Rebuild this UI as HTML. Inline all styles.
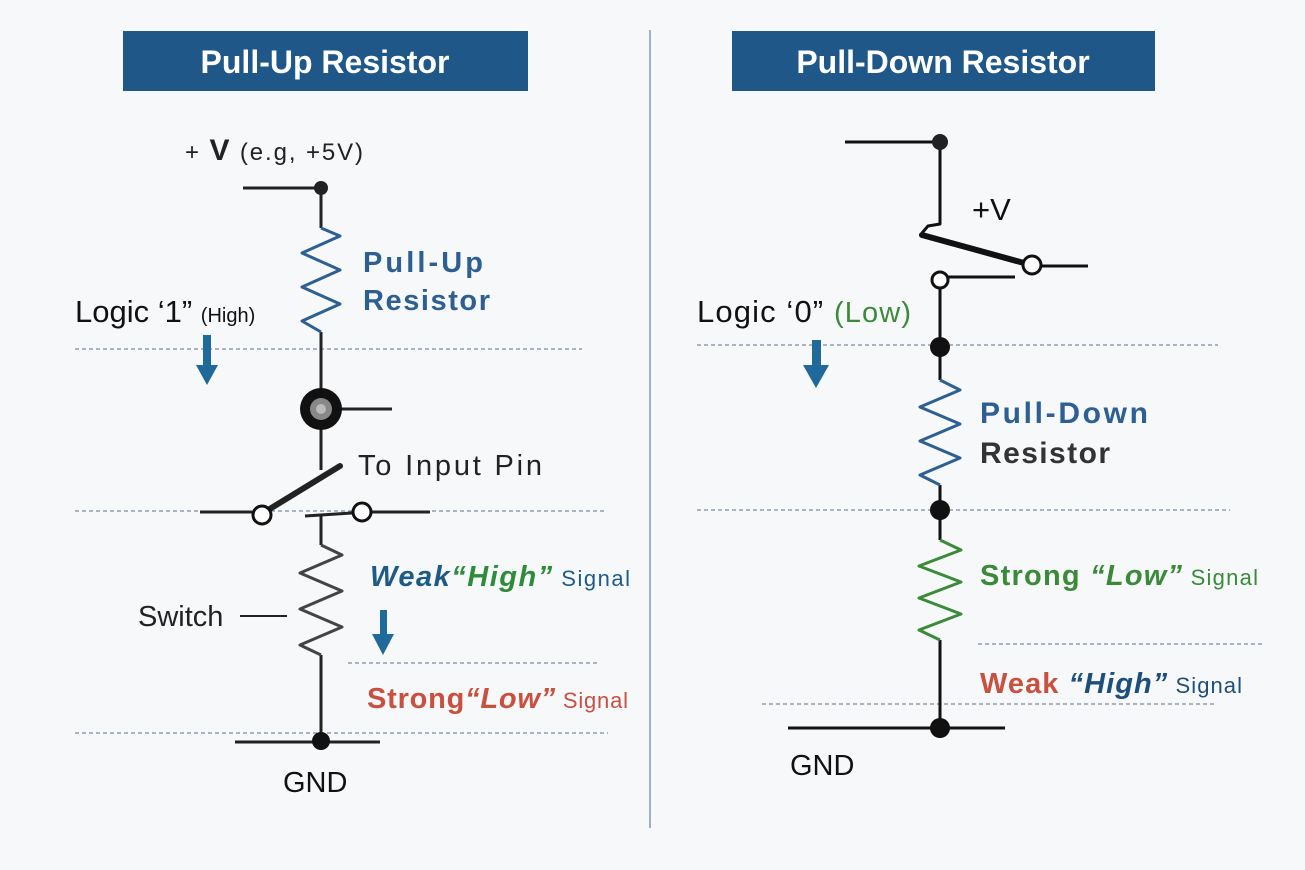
<!DOCTYPE html>
<html><head><meta charset="utf-8"><style>
html,body{margin:0;padding:0;background:#f7f8fa;}
svg{display:block;font-family:"Liberation Sans",sans-serif;}
</style></head><body>
<svg width="1305" height="870" viewBox="0 0 1305 870" xmlns="http://www.w3.org/2000/svg">
<rect width="1305" height="870" fill="#f7f8fa"/>
<rect x="123" y="31" width="405" height="60" fill="#1f5788"/>
<text x="325" y="73" fill="#fff" font-size="32" font-weight="bold" text-anchor="middle">Pull-Up Resistor</text>
<rect x="732" y="31" width="423" height="60" fill="#1f5788"/>
<text x="943" y="73" fill="#fff" font-size="32" font-weight="bold" text-anchor="middle">Pull-Down Resistor</text>
<line x1="650" y1="30" x2="650" y2="828" stroke="#9fb0c4" stroke-width="2"/>

<g stroke="#5a6f8c" stroke-width="1" stroke-dasharray="4,3">
<line x1="75" y1="349" x2="582" y2="349"/>
<line x1="75" y1="511" x2="605" y2="511"/>
<line x1="348" y1="663" x2="598" y2="663"/>
<line x1="75" y1="733" x2="608" y2="733"/>
<line x1="697" y1="345" x2="1218" y2="345"/>
<line x1="697" y1="510" x2="1230" y2="510"/>
<line x1="978" y1="644" x2="1262" y2="644"/>
<line x1="762" y1="704" x2="1215" y2="704"/>
</g>

<g stroke="#222" stroke-width="3" fill="none" stroke-linejoin="round">
<line x1="243" y1="188" x2="321" y2="188"/>
<line x1="321" y1="188" x2="321" y2="228"/>
<line x1="321" y1="332" x2="321" y2="470"/>
<line x1="341" y1="409" x2="392" y2="409"/>
<line x1="200" y1="512" x2="252" y2="512"/>
<line x1="372" y1="512" x2="430" y2="512"/>
<line x1="305" y1="516" x2="352" y2="513"/>
<line x1="321" y1="515" x2="321" y2="545"/>
<line x1="321" y1="655" x2="321" y2="742"/>
<line x1="235" y1="742" x2="380" y2="742"/>
<polyline stroke="#444" points="321,545 342,555 300,573 342,591 300,609 342,627 300,645 321,655"/>
<polyline stroke="#2d5f93" points="321,228 340,236 302,253 340,270 302,287 340,304 302,321 321,332"/>
</g>
<line x1="268" y1="510" x2="340" y2="466" stroke="#222" stroke-width="6" stroke-linecap="round"/>
<circle cx="321" cy="188" r="7" fill="#222"/>
<circle cx="321" cy="409" r="21" fill="#111"/>
<circle cx="321" cy="409" r="11" fill="#888"/>
<circle cx="321" cy="409" r="5" fill="#bbb"/>
<circle cx="262" cy="515" r="9" fill="#fff" stroke="#111" stroke-width="3"/>
<circle cx="362" cy="512" r="9" fill="#fff" stroke="#111" stroke-width="3"/>
<circle cx="321" cy="741" r="9" fill="#111"/>
<line x1="240" y1="616" x2="287" y2="616" stroke="#222" stroke-width="2"/>

<text x="185" y="160" font-size="24" fill="#222" textLength="178">+ <tspan font-size="30" font-weight="bold">V</tspan> (e.g, +5V)</text>
<text x="363" y="272" font-size="29" font-weight="bold" fill="#2d5f93" textLength="120">Pull-Up</text>
<text x="363" y="310" font-size="29" font-weight="bold" fill="#2d5f93" textLength="127">Resistor</text>
<text x="75" y="322" font-size="31" fill="#111">Logic ‘1” <tspan font-size="20">(High)</tspan></text>
<polygon points="203,335 211,335 211,365 218,365 207,385 196,365 203,365" fill="#1f6a9a"/>
<text x="358" y="475" font-size="29" fill="#222" textLength="184">To Input Pin</text>
<text x="370" y="586" font-size="29" font-weight="bold" font-style="italic" fill="#1d5b86" textLength="260">Weak<tspan fill="#2e8b3a">“High”</tspan><tspan font-size="22" font-style="normal" font-weight="normal"> Signal</tspan></text>
<polygon points="380,610 387,610 387,634 394,634 383,655 372,634 380,634" fill="#1f6a9a"/>
<text x="138" y="626" font-size="29" fill="#222">Switch</text>
<text x="367" y="708" font-size="29" font-weight="bold" fill="#c9503f" textLength="261">Strong<tspan font-style="italic">“Low”</tspan><tspan font-size="22" font-weight="normal"> Signal</tspan></text>
<text x="283" y="792" font-size="29" fill="#111">GND</text>

<g stroke="#111" stroke-width="3" fill="none" stroke-linejoin="round">
<line x1="845" y1="142" x2="940" y2="142"/>
<polyline points="940,142 940,224 928,226 922,233"/>
<line x1="1040" y1="266" x2="1088" y2="266"/>
<line x1="948" y1="277" x2="1015" y2="277"/>
<line x1="940" y1="288" x2="940" y2="380"/>
<line x1="940" y1="485" x2="940" y2="540"/>
<line x1="940" y1="640" x2="940" y2="728"/>
<line x1="788" y1="728" x2="1005" y2="728"/>
<polyline stroke="#2d5f93" points="940,380 960,390 920,407 960,424 920,441 960,458 920,475 940,485"/>
<polyline stroke="#3b8a3a" points="940,540 961,550 919,566 961,582 919,598 961,614 919,630 940,640"/>
</g>
<line x1="922" y1="235" x2="1024" y2="263" stroke="#111" stroke-width="6" stroke-linecap="round"/>
<circle cx="940" cy="142" r="8" fill="#222"/>
<circle cx="1032" cy="265" r="9" fill="#fff" stroke="#111" stroke-width="3"/>
<circle cx="940" cy="280" r="8" fill="#fff" stroke="#111" stroke-width="3"/>
<circle cx="940" cy="347" r="10" fill="#111"/>
<circle cx="940" cy="510" r="10" fill="#111"/>
<circle cx="940" cy="728" r="10" fill="#111"/>

<text x="972" y="220" font-size="31" fill="#111">+V</text>
<text x="697" y="322" font-size="31" fill="#111" textLength="214">Logic ‘0” <tspan fill="#3b8a3a" font-size="29">(Low)</tspan></text>
<polygon points="812,340 821,340 821,365 829,365 816,388 803,365 812,365" fill="#1f6a9a"/>
<text x="980" y="423" font-size="30" font-weight="bold" fill="#2d5f93" textLength="168">Pull-Down</text>
<text x="980" y="463" font-size="30" font-weight="bold" fill="#333" textLength="130">Resistor</text>
<text x="980" y="585" font-size="29" font-weight="bold" fill="#3b8a3a" textLength="278">Strong <tspan font-style="italic">“Low”</tspan><tspan font-size="22" font-weight="normal"> Signal</tspan></text>
<text x="980" y="693" font-size="29" font-weight="bold" fill="#c9503f" textLength="262">Weak <tspan font-style="italic" fill="#1d4f7a">“High”</tspan><tspan font-size="22" font-weight="normal" fill="#1d4f7a"> Signal</tspan></text>
<text x="790" y="775" font-size="29" fill="#111">GND</text>
</svg>
</body></html>
